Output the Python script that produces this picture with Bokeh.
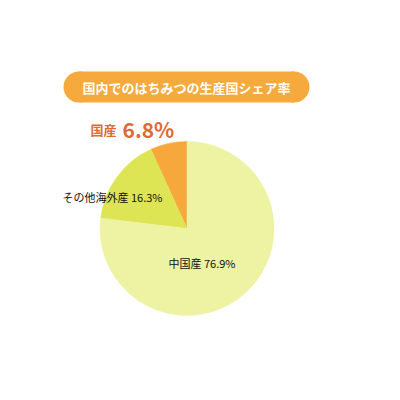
import numpy as np
from bokeh.plotting import figure
from bokeh.models import Range1d, ColumnDataSource, Label
from bokeh.embed import file_html
from bokeh.resources import INLINE

title = "国内でのはちみつの生産国シェア率"
categories = ["国産", "その他海外産", "中国産"]
shares = [6.8, 16.3, 76.9]
colors = ["#F7A83C", "#DEE555", "#EEF2A3"]

W = H = 384
p = figure(width=W, height=H, output_backend="svg", toolbar_location=None,
           x_range=Range1d(0, W), y_range=Range1d(0, H), min_border=0)
p.axis.visible = False
p.grid.visible = False
p.outline_line_color = None
p.background_fill_color = "white"

def Y(py):
    return H - py
def X(px):
    return px

# banner pill
bx0, bx1, by0, by1 = X(63), X(309), Y(71), Y(102)
bh = by0 - by1
banner_col = "#F6AA3E"
p.rect(x=(bx0 + bx1) / 2, y=(by0 + by1) / 2, width=(bx1 - bx0) - bh, height=bh,
       fill_color=banner_col, line_color=None)
p.circle(x=[bx0 + bh / 2, bx1 - bh / 2], y=[(by0 + by1) / 2] * 2, radius=bh / 2,
         fill_color=banner_col, line_color=None)
p.add_layout(Label(x=(bx0 + bx1) / 2, y=(by0 + by1) / 2, text=title,
                   text_font="Noto Sans CJK JP", text_font_style="bold",
                   text_font_size="13px", text_color="white",
                   text_align="center", text_baseline="middle"))

# pie
cx, cy, r = X(186.5), Y(228), 87
frac = np.array(shares) / sum(shares)
ends = np.pi / 2 + 2 * np.pi * np.cumsum(frac)
starts = np.concatenate([[np.pi / 2], ends[:-1]])
src = ColumnDataSource(dict(start=starts, end=ends, color=colors))
p.wedge(x=cx, y=cy, radius=r, start_angle="start", end_angle="end",
        direction="anticlock", fill_color="color", line_color="color",
        line_width=0.5, source=src)

# labels
lab_color = "#DF6A36"
p.add_layout(Label(x=X(90), y=Y(129), text=categories[0],
                   text_font="Noto Sans CJK JP", text_font_style="bold",
                   text_font_size="13px", text_color=lab_color,
                   text_align="left", text_baseline="middle"))
p.add_layout(Label(x=X(122), y=Y(128), text=f"{shares[0]}%",
                   text_font="Noto Sans CJK JP", text_font_style="bold",
                   text_font_size="21px", text_color=lab_color,
                   text_align="left", text_baseline="middle"))
p.add_layout(Label(x=X(62), y=Y(196), text=f"{categories[1]} {shares[1]}%",
                   text_font="Noto Sans CJK JP", text_font_size="11px",
                   text_color="#111111", text_align="left", text_baseline="middle"))
p.add_layout(Label(x=X(168), y=Y(262), text=f"{categories[2]} {shares[2]}%",
                   text_font="Noto Sans CJK JP", text_font_size="11px",
                   text_color="#111111", text_align="left", text_baseline="middle"))

open("out.html", "w").write(file_html(p, INLINE))
